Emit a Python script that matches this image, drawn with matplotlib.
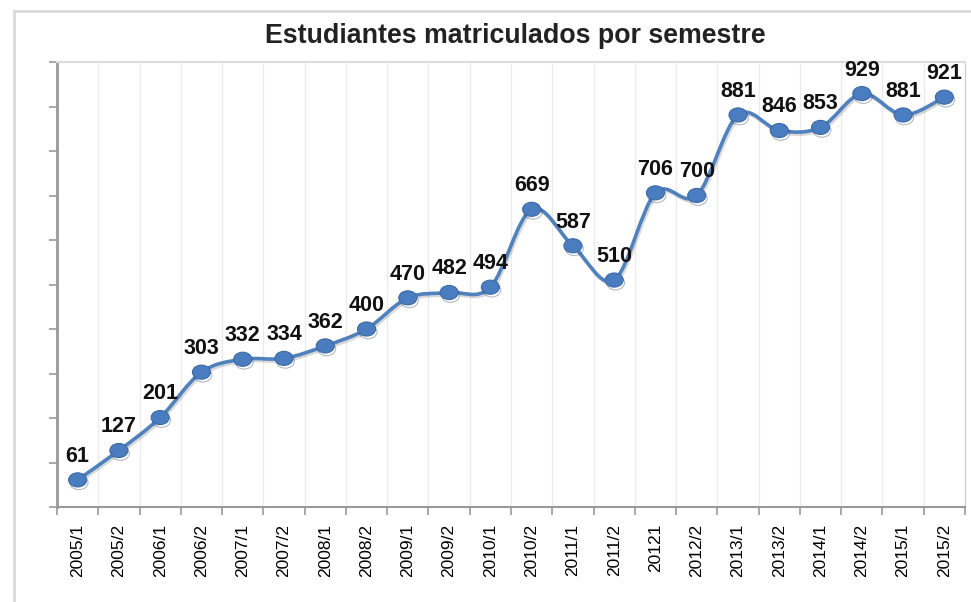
import matplotlib.pyplot as plt
import matplotlib.patheffects as pe
from matplotlib.path import Path
from matplotlib.patches import PathPatch, Rectangle
from matplotlib.transforms import Affine2D
import numpy as np

plt.rcParams['font.family'] = ['Liberation Sans', 'DejaVu Sans']

semestres = ["2005/1", "2005/2", "2006/1", "2006/2", "2007/1", "2007/2",
             "2008/1", "2008/2", "2009/1", "2009/2", "2010/1", "2010/2",
             "2011/1", "2011/2", "20121", "2012/2", "2013/1", "2013/2",
             "2014/1", "2014/2", "2015/1", "2015/2"]
estudiantes = [61, 127, 201, 303, 332, 334, 362, 400, 470, 482, 494, 669,
               587, 510, 706, 700, 881, 846, 853, 929, 881, 921]

azul = "#4f81bd"

fig = plt.figure(figsize=(9.71, 6.02), dpi=100)
# marco exterior
fig.patches.append(Rectangle((14 / 971, -0.05), 1.2, (602 - 11) / 602 + 0.05,
                             transform=fig.transFigure, fill=False,
                             edgecolor="#d9d9d9", linewidth=2))
ax = fig.add_axes([57 / 971, 1 - 507 / 602, (965 - 57) / 971, (507 - 62) / 602])

x = np.arange(len(estudiantes))
y = np.array(estudiantes, dtype=float)

# linea suavizada (bezier tipo Excel)
verts = [(x[0], y[0])]
codes = [Path.MOVETO]
n = len(x)
for i in range(n - 1):
    p0 = np.array([x[max(i - 1, 0)], y[max(i - 1, 0)]])
    p1 = np.array([x[i], y[i]])
    p2 = np.array([x[i + 1], y[i + 1]])
    p3 = np.array([x[min(i + 2, n - 1)], y[min(i + 2, n - 1)]])
    c1 = p1 + (p2 - p0) / 6
    c2 = p2 - (p3 - p1) / 6
    verts += [tuple(c1), tuple(c2), tuple(p2)]
    codes += [Path.CURVE4] * 3
ax.add_patch(PathPatch(Path(verts, codes), facecolor="none", edgecolor=azul,
                       linewidth=2.6, zorder=3,
                       path_effects=[pe.SimpleLineShadow(offset=(1, -1.5), alpha=0.15), pe.Normal()]))

# marcador eliptico
elipse = Path.unit_circle().transformed(Affine2D().scale(1.0, 0.78))
ax.plot(x, y, linestyle="none", marker=elipse, markersize=13, color="#4a7dc0",
        markeredgecolor="#3d6aa6", markeredgewidth=0.8, zorder=4,
        path_effects=[pe.SimpleLineShadow(offset=(1, -2), alpha=0.35, shadow_color="#1f3a5f"), pe.Normal()])

for xi, yi in zip(x, y):
    ax.annotate(str(int(yi)), (xi, yi), xytext=(0, 13), textcoords="offset points",
                ha="center", va="baseline", fontsize=15.5, fontweight="bold",
                color="#111111", zorder=5)

ax.set_xlim(-0.5, len(x) - 0.5)
ax.set_ylim(0, 1000)
ax.set_xticks(x)
ax.set_xticklabels(semestres, rotation=90, fontsize=12.5)
ax.set_xticks(np.arange(len(x) + 1) - 0.5, minor=True)
ax.tick_params(axis="x", which="major", length=0, pad=12)
ax.tick_params(axis="x", which="minor", length=6, color="#999999", width=1.2)
ax.set_yticks(np.arange(0, 1001, 100))
ax.set_yticklabels([])
ax.tick_params(axis="y", length=6, color="#999999", width=1.2)
ax.grid(which="minor", axis="x", color="#ebebeb", linewidth=1)

ax.spines["left"].set_color("#999999")
ax.spines["left"].set_linewidth(2)
ax.spines["bottom"].set_color("#999999")
ax.spines["bottom"].set_linewidth(1.5)
ax.spines["top"].set_color("#dcdcdc")
ax.spines["top"].set_linewidth(1.5)
ax.spines["right"].set_color("#cccccc")

fig.text(515 / 971, 1 - 43 / 602, "Estudiantes matriculados por semestre",
         ha="center", va="baseline", fontsize=19.3, fontweight="bold", color="#222222")

fig.savefig("out.png", dpi=100)
